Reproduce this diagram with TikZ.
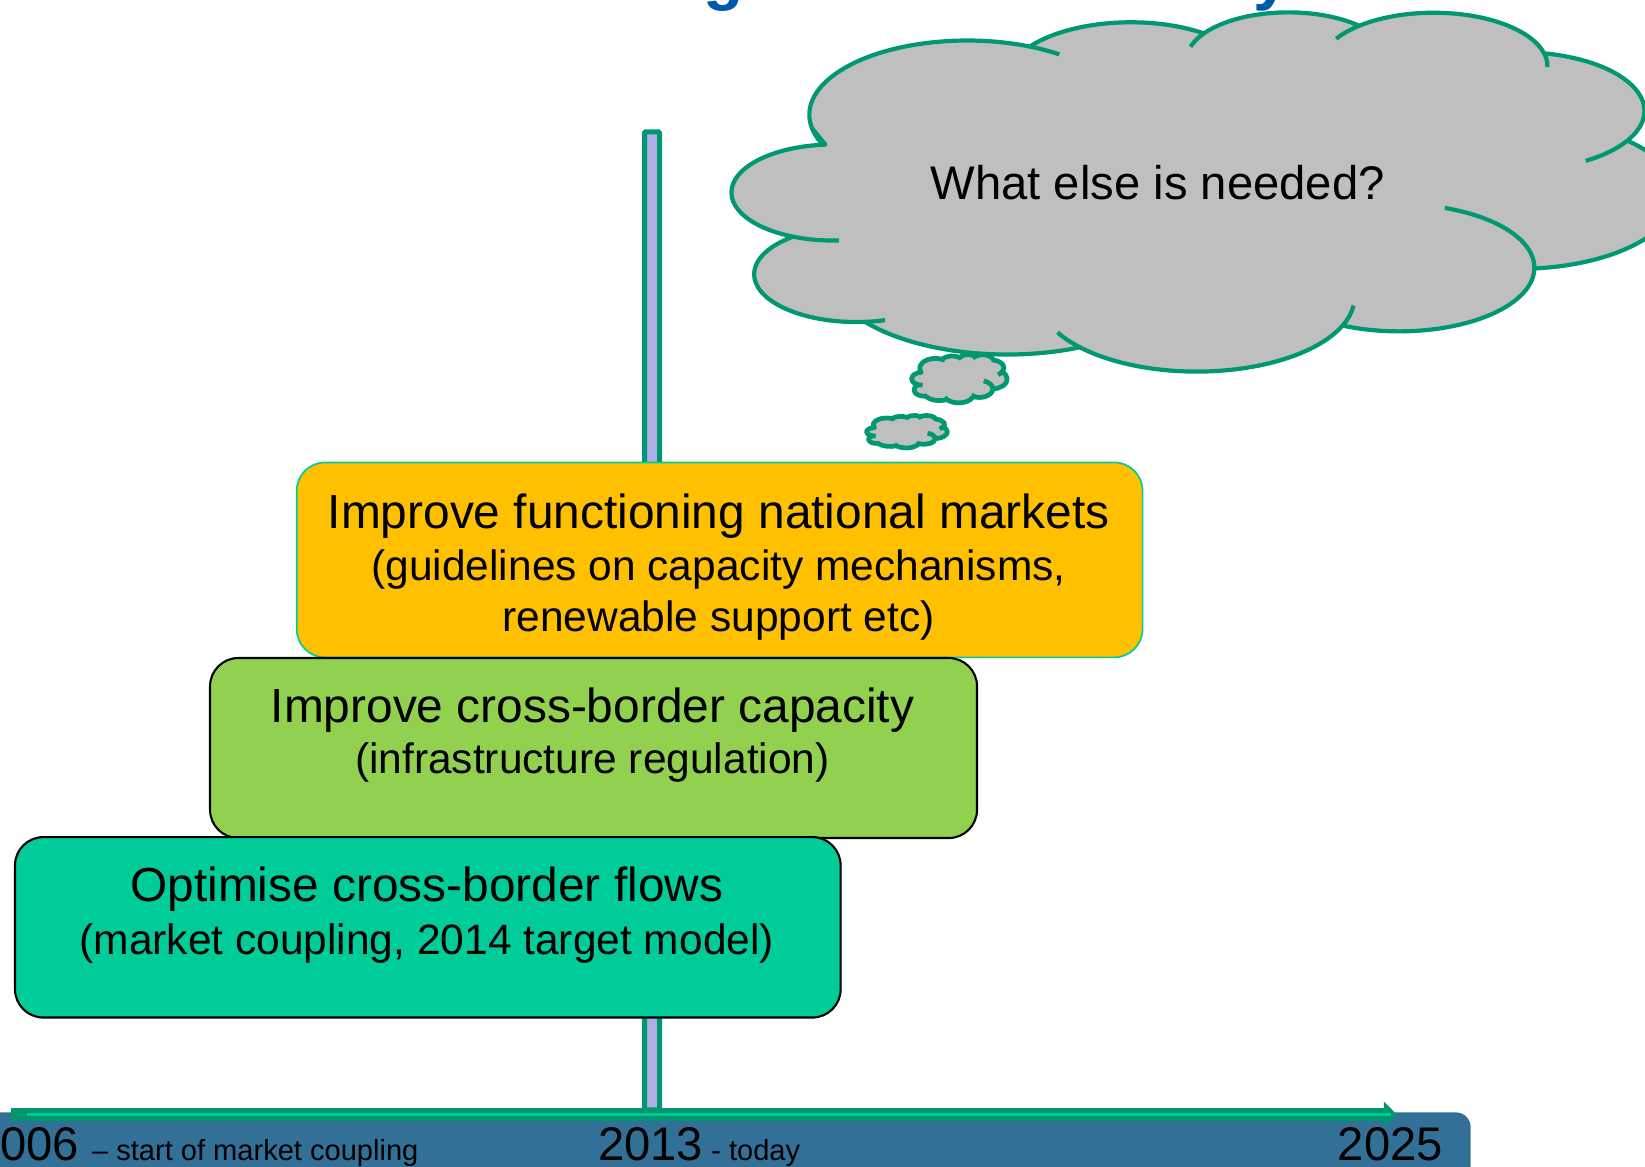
\documentclass[tikz,border=0pt]{standalone}
\usepackage{fontspec}
\setmainfont{Liberation Sans}
\definecolor{cloudgreen}{RGB}{0,152,112}
\definecolor{cloudgray}{RGB}{191,191,191}
\definecolor{barlav}{RGB}{174,174,232}
\definecolor{orangebox}{RGB}{255,192,0}
\definecolor{orangeedge}{RGB}{0,204,153}
\definecolor{greenbox}{RGB}{146,208,80}
\definecolor{tealbox}{RGB}{0,204,153}
\definecolor{bandblue}{RGB}{51,112,152}
\definecolor{axdark}{RGB}{0,150,110}
\definecolor{axlight}{RGB}{0,200,150}
\definecolor{titleblue}{RGB}{0,87,174}

\newcommand\DiagMain{\fontsize{45.6}{55}\selectfont}
\newcommand\DiagSub{\fontsize{40.5}{49}\selectfont}
\newcommand\DiagCloud{\fontsize{45}{54}\selectfont}
\newcommand\DiagYear{\fontsize{45}{54}\selectfont}
\newcommand\DiagNote{\fontsize{27.7}{33}\selectfont}
\newcommand\DiagTitle{\fontsize{63}{75}\selectfont\bfseries}

\newcommand\CloudShape{(39.00,143.70)
 arc[start angle=-190.4875, delta angle=123.7805, x radius=67.53, y radius=91.90]
 arc[start angle=-144.1024, delta angle=89.9452, x radius=53.33, y radius=72.67]
 arc[start angle=-145.8079, delta angle=99.7230, x radius=43.65, y radius=59.45]
 arc[start angle=-130.9861, delta angle=117.2417, x radius=48.57, y radius=65.95]
 arc[start angle=-78.7089, delta angle=109.0269, x radius=53.33, y radius=72.73]
 arc[start angle=-46.2673, delta angle=130.2690, x radius=67.75, y radius=92.20]
 arc[start angle=0.6250, delta angle=114.0333, x radius=57.85, y radius=78.67]
 arc[start angle=22.4516, delta angle=115.1726, x radius=67.52, y radius=92.15]
 arc[start angle=66.2426, delta angle=75.7110, x radius=77.20, y radius=105.43]
 arc[start angle=-274.9421, delta angle=146.7356, x radius=43.60, y radius=59.18]
 arc[start angle=-246.8285, delta angle=152.5189, x radius=43.45, y radius=59.45]
 -- cycle}
\newcommand\CloudTails{%
 (50.52,282.61) arc[start angle=86.742, delta angle=26.4295, x radius=43.45, y radius=59.45]
 (70.21,381.20) arc[start angle=73.6105, delta angle=11.4475, x radius=43.60, y radius=59.18]
 (153.55,414.88) arc[start angle=137.6242, delta angle=14.0811, x radius=67.52, y radius=92.15]
 (270.50,363.10) arc[start angle=6.4533, delta angle=15.9984, x radius=67.52, y radius=92.15]
 (309.46,242.37) arc[start angle=-70.2924, delta angle=70.9174, x radius=57.85, y radius=78.67]
 (387.56,158.99) arc[start angle=30.318, delta angle=27.7515, x radius=53.33, y radius=72.73]
 (351.96,50.96) arc[start angle=-13.7443, delta angle=14.8589, x radius=48.57, y radius=65.95]
 (263.06,32.85) arc[start angle=-149.1815, delta angle=18.1954, x radius=48.57, y radius=65.95]
 (200.81,42.78) arc[start angle=-163.4943, delta angle=17.6864, x radius=43.65, y radius=59.45]
 (132.10,42.56) arc[start angle=-66.707, delta angle=12.3194, x radius=67.53, y radius=91.90]
 (42.94,161.91) arc[start angle=157.6544, delta angle=11.8582, x radius=67.53, y radius=91.90]}

\begin{document}
\begin{tikzpicture}[x=1pt,y=-1pt,
  box/.style={rounded corners=27pt, inner sep=0pt, anchor=north west},
  txt/.style={anchor=base, inner sep=0pt, text=black},
  cloudfill/.style={fill=cloudgray, draw=cloudgreen, line join=round},
  cloudtail/.style={draw=cloudgreen, line cap=butt}]
\useasboundingbox (0,0) rectangle (1568,1112);

% title fragments (cut by the top edge)
\node[anchor=base west, inner sep=0pt, text=titleblue, font=\DiagTitle] (tg) at (670,-2.7) {g};
\node[anchor=base west, inner sep=0pt, text=titleblue, font=\DiagTitle] (ty) at (1195,-2.7) {y};

% vertical "today" bar
\node[draw=cloudgreen, line width=4.8pt, fill=barlav, minimum width=14.3pt,
      minimum height=932.3pt, inner sep=0pt, rounded corners=1pt] (todaybar) at (621.55,591.85) {};

% stacked boxes
\node[box, fill=orangebox, draw=orangeedge, line width=1.6pt,
      minimum width=806.3pt, minimum height=185.8pt] (b1) at (282,440) {};
\node[txt, font=\DiagMain] (b1a) at (685,504) {Improve functioning national markets};
\node[txt, font=\DiagSub] (b1b) at (685,553) {(guidelines on capacity mechanisms,};
\node[txt, font=\DiagSub] (b1c) at (685,602) {renewable support etc)};

\node[box, fill=greenbox, draw=black, line width=2pt,
      minimum width=731.1pt, minimum height=171.6pt] (b2) at (199.2,626.2) {};
\node[txt, font=\DiagMain] (b2a) at (564.7,689) {Improve cross-border capacity};
\node[txt, font=\DiagSub] (b2b) at (564.7,737) {(infrastructure regulation)};

\node[box, fill=tealbox, draw=black, line width=2pt,
      minimum width=787pt, minimum height=172pt] (b3) at (13.3,796.9) {};
\node[txt, font=\DiagMain] (b3a) at (406.8,859.5) {Optimise cross-border flows};
\node[txt, font=\DiagSub] (b3b) at (406.8,910) {(market coupling, 2014 target model)};

% thought cloud
\begin{scope}[shift={(687,11.6)}, x=2.23pt, y=-0.77pt]
  \path[cloudfill, line width=4pt] \CloudShape;
  \path[cloudtail, line width=4pt] \CloudTails;
\end{scope}
\begin{scope}[shift={(868,338)}, x=0.2253pt, y=-0.1034pt]
  \path[cloudfill, line width=4.5pt] \CloudShape;
  \path[cloudtail, line width=4.5pt] \CloudTails;
\end{scope}
\begin{scope}[shift={(825.1,396)}, x=0.1907pt, y=-0.0697pt]
  \path[cloudfill, line width=4.5pt] \CloudShape;
  \path[cloudtail, line width=4.5pt] \CloudTails;
\end{scope}
\node[txt, font=\DiagCloud] (q) at (1103.5,190) {What else is needed?};

% time axis band
\fill[bandblue, rounded corners=14pt] (-30,1060.3) rectangle (1401.8,1150);
\coordinate (axs) at (10.3,1062.3);
\coordinate (axh) at (1319,1062.3);
\coordinate (axe) at (1331.6,1062.3);
\draw[axdark, line width=11.5pt] (axs) -- (axh);
\fill[axdark] (1319,1049.9) -- (axe) -- (1319,1074.7) -- cycle;
\draw[axlight, line width=3.2pt] (25.7,1062.3) -- (1326,1062.3);

\node[anchor=base west, inner sep=0pt] (y2006) at (-25,1105.8)
  {\DiagYear 2006 \DiagNote– start of market coupling};
\node[anchor=base west, inner sep=0pt] (y2013) at (570,1105.8)
  {\DiagYear 2013\DiagNote{} - today};
\node[anchor=base west, inner sep=0pt] (y2025) at (1275,1105.8)
  {\DiagYear 2025};
\end{tikzpicture}
\end{document}
